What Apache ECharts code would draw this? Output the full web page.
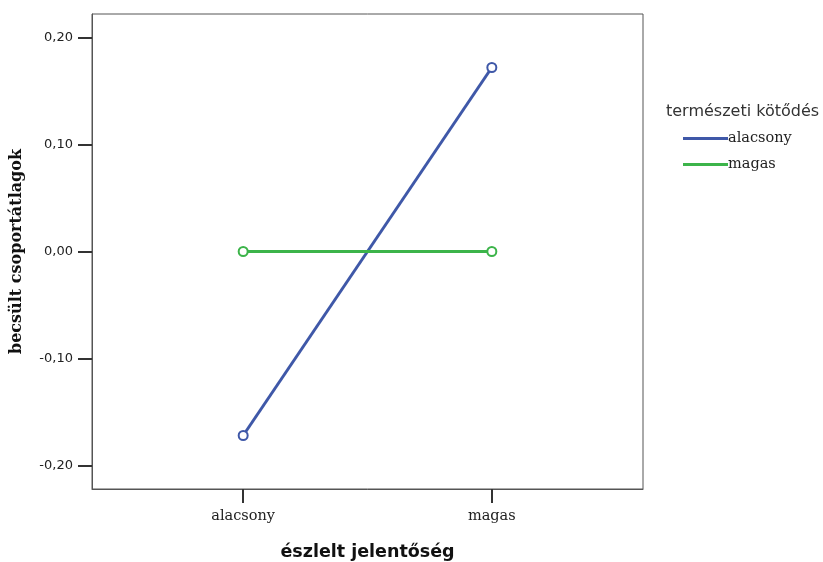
<!DOCTYPE html>
<html><head><meta charset="utf-8">
<script src="https://cdn.jsdelivr.net/npm/echarts@6/dist/echarts.min.js"></script>
<style>html,body{margin:0;padding:0;background:#fff}#c{width:823px;height:562px}</style>
</head><body><div id="c"></div>
<script>
const categories = ['alacsony', 'magas'];
const seriesNames = ['alacsony', 'magas'];
const valuesAlacsony = [-0.172, 0.172];
const valuesMagas = [0.0, 0.0];
const yTicks = [-0.2, -0.1, 0.0, 0.1, 0.2];
const legendTitle = 'természeti kötődés';
const xTitle = 'észlelt jelentőség';
const yTitle = 'becsült csoportátlagok';

const chart = echarts.init(document.getElementById('c'));
const catIdx = categories.map((c, i) => i);
chart.setOption({
  animation: false,
  grid: {left: 92, top: 14, width: 551, height: 475, outerBoundsMode: 'none', containLabel: false,
    show: true, borderColor: '#555', borderWidth: 1, backgroundColor: '#fff'},
  xAxis: {
    type: 'value', min: -0.608, max: 1.608,
    name: xTitle, nameLocation: 'middle', nameGap: 54,
    nameTextStyle: {fontFamily: 'DejaVu Sans', fontWeight: 'bold', fontSize: 17.5, color: '#111'},
    axisLine: {show: true, onZero: false, lineStyle: {color: '#555'}},
    axisTick: {show: true, customValues: catIdx, length: 14, lineStyle: {color: '#333', width: 2}},
    axisLabel: {customValues: catIdx, formatter: v => categories[Math.round(v)], margin: 20,
      fontFamily: 'DejaVu Serif', fontSize: 14.5, color: '#222'},
    splitLine: {show: false}
  },
  yAxis: {
    type: 'value', min: -0.222, max: 0.222,
    name: yTitle, nameLocation: 'middle', nameGap: 67, nameRotate: 90,
    nameTextStyle: {fontFamily: 'DejaVu Serif', fontWeight: 'bold', fontSize: 16, color: '#111'},
    axisLine: {show: true, onZero: false, lineStyle: {color: '#555'}},
    axisTick: {show: true, customValues: yTicks, length: 14, lineStyle: {color: '#333', width: 2}},
    axisLabel: {customValues: yTicks, formatter: v => v.toFixed(2).replace('.', ','), margin: 19,
      fontFamily: 'DejaVu Sans', fontSize: 13, color: '#222'},
    splitLine: {show: false}
  },
  legend: {
    orient: 'vertical', left: 678, top: 126, itemGap: 11,
    icon: 'rect', itemWidth: 45, itemHeight: 3,
    textStyle: {fontFamily: 'DejaVu Serif', fontSize: 14.5, color: '#222', padding: [0,0,0,-5]},
    data: seriesNames
  },
  graphic: [{type: 'text', left: 666, top: 104,
    style: {text: legendTitle, font: '16px "DejaVu Sans"', fill: '#333'}}],
  series: [
    {name: seriesNames[0], type: 'line', data: catIdx.map(i => [i, valuesAlacsony[i]]),
     symbol: 'emptyCircle', symbolSize: 9, color: '#3f58a8',
     lineStyle: {width: 3, color: '#3f58a8'}, itemStyle: {color: '#3f58a8', borderWidth: 1.5}},
    {name: seriesNames[1], type: 'line', data: catIdx.map(i => [i, valuesMagas[i]]),
     symbol: 'emptyCircle', symbolSize: 9, color: '#3cb44a',
     lineStyle: {width: 3, color: '#3cb44a'}, itemStyle: {color: '#3cb44a', borderWidth: 1.5}}
  ]
});
</script></body></html>
